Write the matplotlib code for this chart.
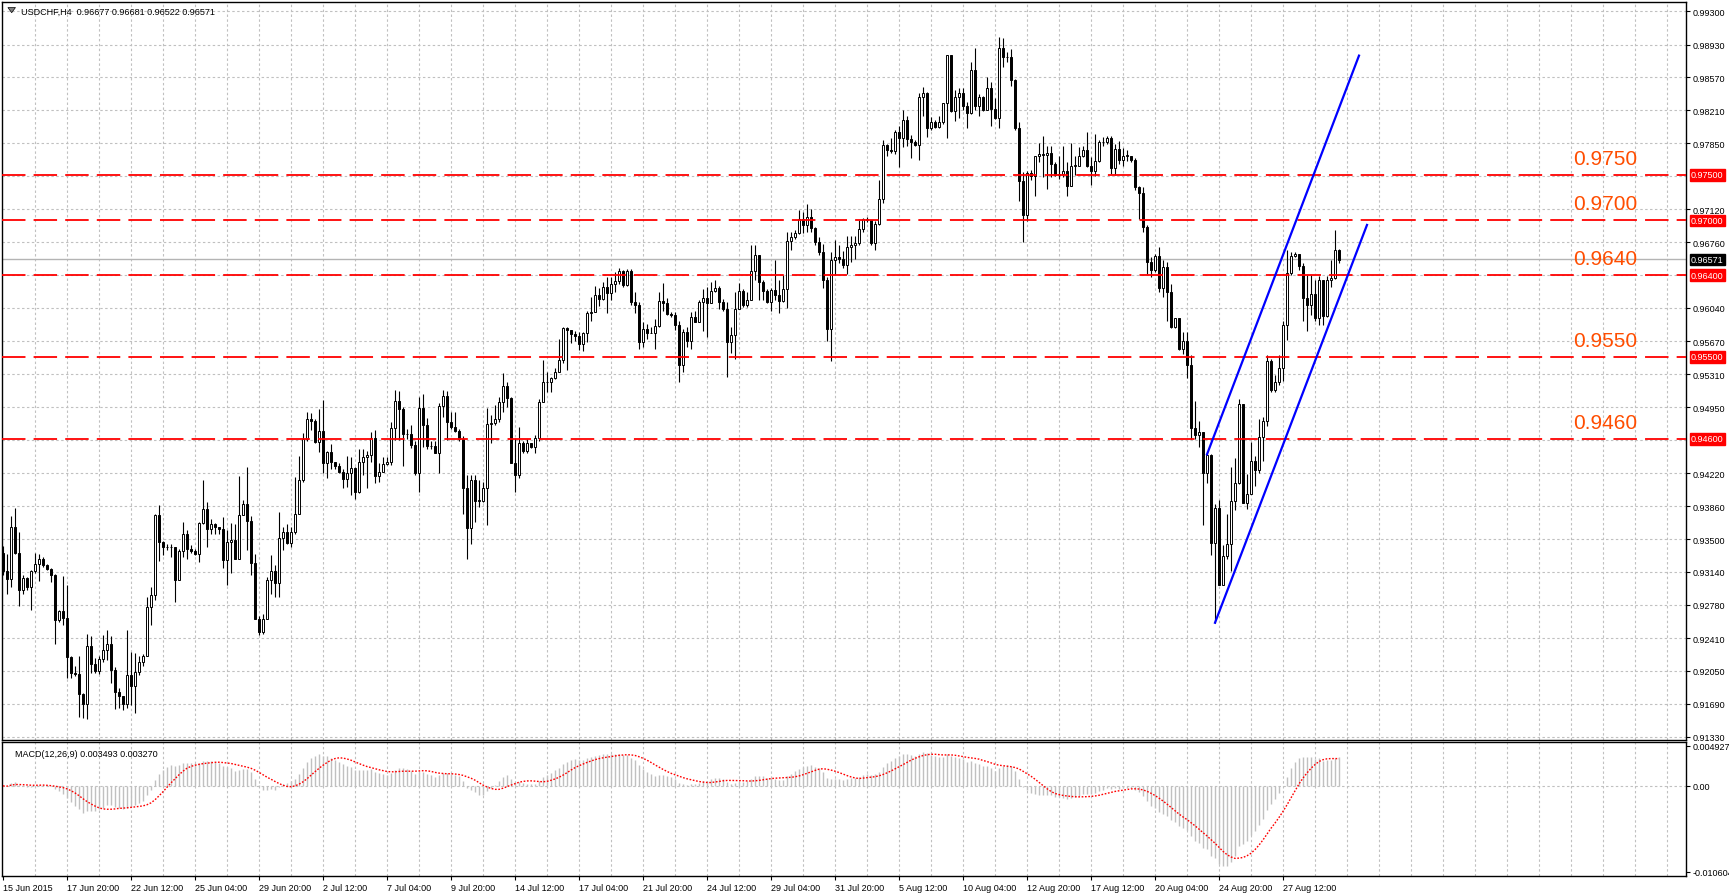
import numpy as np
import matplotlib
matplotlib.use("Agg")
import matplotlib.pyplot as plt
import matplotlib.transforms as mtransforms
from matplotlib.patches import Rectangle, Polygon

plt.rcParams['font.family'] = ['Liberation Sans', 'DejaVu Sans']

closes = [
.9315,.9306,.9363,.9335,.9294,.9307,.9297,.9315,.9322,.9328,
.9321,.9317,.9310,.9261,.9271,.9263,.9220,.9203,.9202,.9180,
.9169,.9232,.9213,.9205,.9218,.9228,.9235,.9206,.9182,.9177,
.9169,.9201,.9188,.9204,.9215,.9222,.9275,.9288,.9376,.9347,
.9341,.9341,.9341,.9305,.9337,.9355,.9339,.9337,.9334,.9368,
.9383,.9361,.9367,.9363,.9361,.9327,.9347,.9349,.9328,.9376,
.9388,.9370,.9324,.9262,.9248,.9262,.9305,.9315,.9302,.9351,
.9358,.9346,.9358,.9378,.9415,.9460,.9482,.9480,.9457,.9469,
.9433,.9446,.9435,.9430,.9424,.9416,.9423,.9428,.9402,.9435,
.9440,.9442,.9461,.9419,.9424,.9432,.9435,.9472,.9502,.9493,
.9465,.9465,.9453,.9423,.9494,.9475,.9452,.9452,.9445,.9496,
.9507,.9479,.9473,.9469,.9460,.9406,.9362,.9415,.9392,.9392,
.9406,.9476,.9477,.9482,.9500,.9518,.9505,.9433,.9420,.9455,
.9447,.9455,.9451,.9461,.9500,.9523,.9522,.9527,.9534,.9547,
.9582,.9580,.9575,.9573,.9564,.9576,.9598,.9599,.9618,.9614,
.9627,.9620,.9630,.9633,.9644,.9629,.9644,.9610,.9607,.9566,
.9581,.9576,.9576,.9584,.9611,.9609,.9597,.9596,.9585,.9541,
.9577,.9567,.9594,.9588,.9610,.9615,.9609,.9622,.9626,.9610,
.9603,.9566,.9574,.9603,.9622,.9607,.9613,.9644,.9662,.9632,
.9622,.9610,.9624,.9618,.9611,.9625,.9677,.9682,.9686,.9702,
.9695,.9704,.9692,.9676,.9665,.9635,.9581,.9657,.9660,.9658,
.9651,.9671,.9673,.9675,.9691,.9702,.9700,.9675,.9696,.9724,
.9783,.9777,.9776,.9797,.9790,.9810,.9789,.9786,.9783,.9835,
.9840,.9801,.9808,.9803,.9808,.9829,.9882,.9820,.9835,.9840,
.9826,.9818,.9865,.9826,.9836,.9821,.9845,.9822,.9812,.9889,
.9879,.9879,.9854,.9801,.9743,.9706,.9752,.9749,.9771,.9773,
.9772,.9774,.9762,.9750,.9751,.9754,.9738,.9760,.9760,.9771,
.9777,.9760,.9754,.9765,.9786,.9786,.9791,.9757,.9778,.9766,
.9771,.9771,.9766,.9737,.9730,.9693,.9654,.9646,.9661,.9626,
.9649,.9621,.9583,.9593,.9559,.9567,.9541,.9472,.9464,.9468,
.9423,.9442,.9346,.9384,.9300,.9331,.9344,.9392,.9412,.9498,
.9390,.9399,.9436,.9426,.9462,.9480,.9546,.9514,.9523,.9538,
.9585,.9642,.9661,.9663,.9650,.9615,.9607,.9619,.9593,.9634,
.9595,.9634,.9637,.9668,.9657]

highs = [
.9342,.9333,.9375,.9384,.9358,.9310,.9308,.9316,.9335,.9334,
.9330,.9322,.9318,.9312,.9272,.9309,.9300,.9221,.9211,.9222,
.9181,.9246,.9243,.9219,.9222,.9244,.9250,.9243,.9209,.9186,
.9177,.9250,.9226,.9225,.9221,.9224,.9286,.9297,.9377,.9387,
.9348,.9345,.9345,.9341,.9339,.9369,.9360,.9343,.9339,.9369,
.9415,.9391,.9372,.9368,.9363,.9374,.9360,.9368,.9367,.9419,
.9393,.9429,.9375,.9334,.9265,.9268,.9308,.9332,.9321,.9380,
.9363,.9366,.9363,.9418,.9441,
.9466,.9489,.9488,.9482,.9493,.9503,.9447,.9454,.9432,.9433,
.9427,.9441,.9440,.9429,.9449,.9449,.9447,.9467,.9470,.9433,
.9440,.9440,.9479,.9514,.9513,.9495,.9471,.9475,.9458,.9506,
.9509,.9483,.9458,.9458,.9499,.9514,.9513,.9490,.9489,.9471,
.9463,.9420,.9420,.9420,.9415,.9413,.9494,.9486,.9497,.9506,
.9532,.9522,.9506,.9461,.9473,.9458,.9460,.9456,.9464,.9504,
.9547,.9534,.9528,.9538,.9570,.9583,.9583,.9580,.9579,.9577,
.9577,.9601,
.9616,.9628,.9626,.9632,.9638,.9638,.9643,.9648,.9646,.9647,
.9647,.9621,.9610,.9588,.9586,.9583,.9592,.9621,.9631,.9615,
.9599,.9599,.9589,.9581,.9583,.9599,.9601,.9612,.9625,.9627,
.9632,.9634,.9628,.9614,.9610,.9583,.9621,.9631,.9625,.9621,
.9673,.9673,.9662,.9634,.9625,.9626,.9656,.9635,.9640,.9687,
.9687,.9689,.9711,.9709,.9718,.9712,.9693,.9682,.9674,.9638,
.9665,.9679,.9673,.9666,.9683,.9683,.9683,.9700,.9703,.9704,
.9696,.9699,.9744,
.9788,.9784,.9790,.9799,.9804,.9821,.9815,.9794,.9788,.9840,
.9846,.9841,.9814,.9810,.9815,.9829,.9882,.9882,.9843,.9845,
.9845,.9830,.9874,.9889,.9839,.9837,.9857,.9852,.9834,.9901,
.9900,.9885,.9888,.9855,.9808,.9753,.9754,.9755,.9771,.9785,
.9793,.9782,.9782,.9764,.9771,.9782,.9764,.9785,.9771,.9781,
.9782,.9797,.9770,.9795,.9788,.9792,.9793,.9793,.9784,.9787,
.9779,.9777,.9771,.9768,.9738,.9737,.9695,.9660,.9663,.9671,
.9656,.9654,
.9630,.9593,.9593,.9577,.9577,.9552,.9502,.9480,.9468,.9447,
.9443,.9388,.9393,.9343,.9378,.9429,.9439,.9504,.9471,.9421,
.9457,.9441,.9482,.9484,.9552,.9548,.9530,.9552,.9589,.9668,
.9665,.9665,.9663,.9653,.9640,.9640,.9634,.9639,.9613,.9639,
.9657,.9689,.9669]

lows = [
.9310,.9290,.9297,.9334,.9276,.9290,.9294,.9272,.9313,.9304,
.9319,.9316,.9303,.9235,.9259,.9255,.9197,.9197,.9200,.9155,
.9153,.9152,.9203,.9203,.9202,.9215,.9217,.9192,.9163,.9164,
.9162,.9164,.9168,.9159,.9201,.9211,.9221,.9255,.9283,.9326,
.9332,.9338,.9330,.9281,.9305,.9330,.9328,.9335,.9332,.9325,
.9366,.9341,.9356,.9356,.9356,.9318,.9300,.9313,.9328,.9363,
.9376,.9338,.9310,.9262,.9244,.9246,.9262,.9290,.9286,.9286,
.9338,.9344,.9341,.9355,.9377,
.9413,.9458,.9470,.9455,.9446,.9423,.9417,.9427,.9427,.9423,
.9406,.9407,.9398,.9394,.9400,.9420,.9406,.9435,.9411,.9413,
.9424,.9431,.9431,.9459,.9459,.9430,.9460,.9450,.9420,.9402,
.9451,.9449,.9449,.9444,.9423,.9484,.9459,.9471,.9468,.9458,
.9378,.9328,.9345,.9369,.9385,.9391,.9365,.9456,.9475,.9479,
.9490,.9495,.9433,.9402,.9417,.9444,.9445,.9450,.9445,.9458,
.9500,.9511,.9512,.9526,.9534,.9543,.9536,.9565,.9568,.9558,
.9556,.9566,
.9589,.9599,.9606,.9612,.9598,.9612,.9621,.9630,.9627,.9628,
.9607,.9598,.9559,.9561,.9570,.9576,.9559,.9583,.9601,.9596,
.9594,.9580,.9523,.9533,.9561,.9559,.9588,.9588,.9578,.9572,
.9609,.9621,.9603,.9601,.9528,.9554,.9548,.9603,.9605,.9605,
.9612,.9634,.9612,.9612,.9609,.9601,.9612,.9598,.9610,.9604,
.9668,.9680,.9685,.9686,.9687,.9687,.9673,.9662,.9626,.9568,
.9546,.9640,.9653,.9648,.9641,.9654,.9658,.9673,.9687,.9698,
.9673,.9667,.9695,
.9719,.9771,.9774,.9773,.9759,.9781,.9782,.9768,.9782,.9766,
.9815,.9792,.9799,.9801,.9801,.9806,.9790,.9819,.9809,.9812,
.9821,.9801,.9817,.9821,.9815,.9820,.9821,.9804,.9811,.9801,
.9869,.9874,.9848,.9799,.9721,.9676,.9699,.9744,.9727,.9764,
.9748,.9735,.9748,.9749,.9746,.9748,.9727,.9738,.9750,.9763,
.9770,.9759,.9739,.9749,.9764,.9782,.9784,.9751,.9750,.9762,
.9760,.9765,.9764,.9733,.9702,.9687,.9641,.9638,.9643,.9621,
.9616,.9590,
.9582,.9582,.9558,.9553,.9527,.9460,.9460,.9451,.9365,.9412,
.9332,.9258,.9300,.9300,.9328,.9315,.9382,.9410,.9389,.9383,
.9399,.9408,.9423,.9436,.9474,.9512,.9511,.9519,.9524,.9569,
.9640,.9660,.9645,.9590,.9578,.9596,.9590,.9585,.9585,.9594,
.9627,.9636,.9653]

first_open = 0.9335
date_labels = ["15 Jun 2015", "17 Jun 20:00", "22 Jun 12:00", "25 Jun 04:00", "29 Jun 20:00",
               "2 Jul 12:00", "7 Jul 04:00", "9 Jul 20:00", "14 Jul 12:00", "17 Jul 04:00",
               "21 Jul 20:00", "24 Jul 12:00", "29 Jul 04:00", "31 Jul 20:00", "5 Aug 12:00",
               "10 Aug 04:00", "12 Aug 20:00", "17 Aug 12:00", "20 Aug 04:00", "24 Aug 20:00",
               "27 Aug 12:00"]
price_ticks = [0.99300, 0.98930, 0.98570, 0.98210, 0.97850, 0.97120, 0.96760, 0.96040,
               0.95670, 0.95310, 0.94950, 0.94220, 0.93860, 0.93500, 0.93140, 0.92780,
               0.92410, 0.92050, 0.91690, 0.91330]
grid_levels = price_ticks + [0.97490, 0.96400, 0.94590]
levels = [0.9750, 0.9700, 0.9640, 0.9550, 0.9460]
current_price = 0.96571
chan_upper_x = [301, 339]; chan_upper_y = [0.9443, 0.9881]
chan_lower_x = [303, 341]; chan_lower_y = [0.9258, 0.9695]
title_vals = "USDCHF,H4  0.96677 0.96681 0.96522 0.96571"
macd_title = "MACD(12,26,9) 0.003493 0.003270"
macd_ticks = [0.004927, 0.0, -0.010604]
macd_tick_labels = ["0.004927", "0.00", "-0.010604"]

n = len(closes)
opens = [first_open] + closes[:-1]
W, H = 1729, 895
fig = plt.figure(figsize=(W/100, H/100), dpi=100)
fig.patch.set_facecolor("white")
L, R = 2/W, 1686/W
ax = fig.add_axes([L, 1-741/H, R-L, (741-3)/H])
ax2 = fig.add_axes([L, 1-877/H, R-L, (877-743)/H])
xlim = (-0.25, 420.75)
grid_kw = dict(color="#c0c0c0", lw=0.8, dashes=(2.2, 2.2), zorder=0)
SMALL = 6.5

for a in (ax, ax2):
    a.set_xlim(*xlim)
    for s in a.spines.values():
        s.set_color("black"); s.set_linewidth(1)
    for gx in range(8, 421, 8):
        a.axvline(gx, **grid_kw)

ax.set_ylim(0.91292, 0.99399)
for g in grid_levels:
    ax.axhline(g, **grid_kw)

for i in range(n):
    o, c, h, l = opens[i], closes[i], highs[i], lows[i]
    h = max(h, o, c); l = min(l, o, c)
    ax.plot([i, i], [l, h], color="black", lw=0.8, zorder=3, solid_capstyle="butt")
    lo, hi = min(o, c), max(o, c)
    ax.add_patch(Rectangle((i-0.35, lo), 0.7, max(hi-lo, 0.00003),
                           facecolor="white" if c >= o else "black",
                           edgecolor="black", lw=0.7, zorder=4))

ax.axhline(current_price, color="#b4b4b4", lw=1, zorder=2)
for lv in levels:
    ax.axhline(lv, color="red", lw=1.3, dashes=(13, 4.5), zorder=5)
    ax.annotate(f"{lv:.4f}", (392.5, lv), xytext=(0, 5), textcoords="offset points",
                color="#ff4d00", fontsize=15, ha="left", va="bottom", zorder=6)
ax.plot(chan_upper_x, chan_upper_y, color="blue", lw=1.6, zorder=6)
ax.plot(chan_lower_x, chan_lower_y, color="blue", lw=1.6, zorder=6)

ax.yaxis.tick_right()
ax.set_yticks(price_ticks)
ax.set_yticklabels([f"{t:.5f}" for t in price_ticks], fontsize=SMALL)
ax.tick_params(axis="y", length=3, width=0.8, pad=2)
ax.set_xticks([])
trans = mtransforms.blended_transform_factory(ax.transAxes, ax.transData)
for lv in levels:
    ax.text(1.003, lv, f"{lv:.5f}", transform=trans, fontsize=SMALL, color="white", va="center",
            ha="left", bbox=dict(boxstyle="square,pad=0.15", fc="red", ec="red"), zorder=10)
ax.text(1.003, current_price, f"{current_price:.5f}", transform=trans, fontsize=SMALL, color="white",
        va="center", ha="left", bbox=dict(boxstyle="square,pad=0.15", fc="black", ec="black"), zorder=10)
ax.text(0.0110, 0.9935, title_vals, transform=ax.transAxes, fontsize=SMALL, va="top", ha="left")
ax.add_patch(Polygon([[0.0035, 0.9925], [0.0080, 0.9925], [0.00575, 0.9855]], closed=True,
                     transform=ax.transAxes, fc="#808080", ec="black", lw=0.5))

cl = np.array(closes)
def ema(x, p):
    a = 2/(p+1); out = np.empty_like(x); out[0] = x[0]
    for k in range(1, len(x)):
        out[k] = a*x[k] + (1-a)*out[k-1]
    return out
macd = ema(cl, 12) - ema(cl, 26)
sig = np.array([macd[max(0, k-8):k+1].mean() for k in range(n)])
ax2.set_ylim(-0.0111, 0.0054)
ax2.axhline(0, **grid_kw)
ax2.vlines(np.arange(n), 0, macd, color="#c0c0c0", lw=1, zorder=2)
ax2.plot(np.arange(n), sig, color="red", lw=1, ls=(0, (1.2, 1.2)), zorder=3)
ax2.yaxis.tick_right()
ax2.set_yticks(macd_ticks)
ax2.set_yticklabels(macd_tick_labels, fontsize=SMALL)
ax2.tick_params(axis="y", length=3, width=0.8, pad=2)
ax2.set_xticks(np.arange(0, 16*len(date_labels), 16))
ax2.set_xticklabels(date_labels, fontsize=SMALL, ha="left")
ax2.tick_params(axis="x", length=3, width=0.8, pad=2)
ax2.text(0.008, 0.95, macd_title, transform=ax2.transAxes, fontsize=SMALL, va="top", ha="left")

fig.savefig("out.png", dpi=100, facecolor="white")
